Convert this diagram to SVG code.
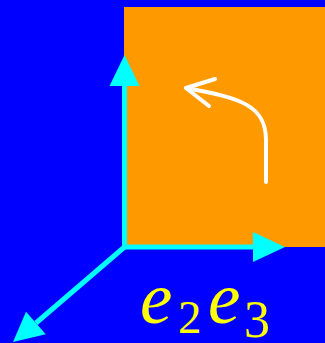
<svg xmlns="http://www.w3.org/2000/svg" width="325" height="343" viewBox="0 0 325 343">
<style>
.axis{stroke:#00ffff;stroke-width:5;fill:none}
.head{fill:#00ffff}
.rot{stroke:#ffffff;stroke-width:4;fill:none;stroke-linecap:round;stroke-linejoin:round}
.lbl{fill:#ffff00;font-family:"Liberation Serif","Times New Roman",serif}
</style>
<rect x="0" y="0" width="325" height="343" fill="#0000ff"/>
<g id="plane">
<rect x="124" y="7" width="201" height="240" fill="#ff9900"/>
</g>
<g id="rotation">
<path class="rot" d="M266,182 L266,140 C266,105 240,98 186,88"/>
<path class="rot" d="M215,79 L186,88 L209,106"/>
</g>
<g id="connectors">
<path class="axis" d="M124.5,247 L124.5,84"/>
<polygon class="head" points="124.5,55 139.5,86 109.5,86"/>
<path class="axis" d="M122,247 L255,247"/>
<polygon class="head" points="285,247 253,232 253,262"/>
<path class="axis" d="M124.5,247 L36,323"/>
<polygon class="head" points="13,342 26,311.7 45.7,334.3"/>
</g>
<g id="label">
<text class="lbl" x="140" y="323" font-size="73" font-style="italic">e</text>
<text class="lbl" x="178" y="333" font-size="47">2</text>
<text class="lbl" x="208" y="323" font-size="73" font-style="italic">e</text>
<text class="lbl" x="244" y="337" font-size="52">3</text>
</g>
</svg>
